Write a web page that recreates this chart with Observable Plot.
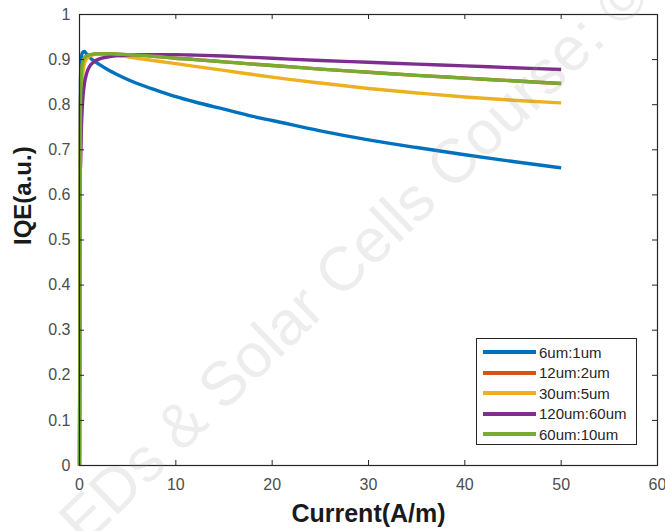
<!DOCTYPE html>
<html>
<head>
<meta charset="utf-8">
<script src="https://cdn.jsdelivr.net/npm/d3@7"></script>
<script src="https://cdn.jsdelivr.net/npm/@observablehq/plot@0.6"></script>
<style>
  body { margin: 0; background: #fff; }
  #chart { position: relative; width: 665px; height: 531px; }
  .legend {
    position: absolute; left: 476px; top: 338px; width: 161px; height: 107px;
    box-sizing: border-box; border: 1px solid #262626; background: #fff;
    font-family: "Liberation Sans", Arial, sans-serif; font-size: 15px; color: #262626;
    padding-top: 3px;
  }
  .legend .row { display: flex; align-items: center; height: 20.5px; }
  .legend .swatch { width: 53px; height: 4px; margin-left: 6px; margin-right: 3px; }
</style>
</head>
<body>
<div id="chart"></div>
<script>
// Injection current (A/m) at which the IQE was evaluated
const current = [0, 0.1, 0.2, 0.3, 0.5, 0.75, 1, 1.5, 2, 3, 4, 5, 6, 8, 10, 12, 15, 18, 20, 25, 30, 35, 40, 45, 50];

// IQE for each geometry (null = not evaluated)
const iqe6_1    = [0, 0.85, 0.905, 0.915, 0.918, 0.912, 0.906, 0.897, 0.890, 0.877, 0.866, 0.856, 0.847, 0.832, 0.818, 0.806, 0.790, 0.774, 0.765, 0.742, 0.722, 0.705, 0.689, 0.674, 0.660];
const iqe12_2   = [0, 0.80, 0.870, 0.890, 0.903, 0.908, 0.910, 0.912, 0.913, 0.913, 0.912, 0.911, 0.910, 0.907, 0.903, 0.900, 0.895, 0.890, 0.887, 0.879, 0.872, 0.865, 0.859, 0.853, 0.847];
const iqe30_5   = [0, 0.70, 0.820, 0.860, 0.890, 0.902, 0.907, 0.911, 0.912, 0.911, 0.909, 0.906, 0.903, 0.897, 0.891, 0.885, 0.876, 0.867, 0.861, 0.848, 0.836, 0.826, 0.817, 0.810, 0.804];
const iqe120_60 = [null, 0.66, 0.750, 0.800, 0.845, 0.870, 0.883, 0.895, 0.901, 0.906, 0.909, 0.910, 0.911, 0.911, 0.911, 0.910, 0.908, 0.905, 0.903, 0.898, 0.894, 0.890, 0.886, 0.882, 0.878];
const iqe60_10  = [0, 0.80, 0.870, 0.890, 0.903, 0.908, 0.910, 0.912, 0.913, 0.913, 0.912, 0.911, 0.910, 0.907, 0.903, 0.900, 0.895, 0.890, 0.887, 0.879, 0.872, 0.865, 0.859, 0.853, 0.847];

const seriesNames = ["6um:1um", "12um:2um", "30um:5um", "120um:60um", "60um:10um"];
const seriesValues = [iqe6_1, iqe12_2, iqe30_5, iqe120_60, iqe60_10];
const seriesColors = ["#0072BD", "#D95319", "#EDB120", "#7E2F8E", "#77AC30"];

const xTicks = [0, 10, 20, 30, 40, 50, 60];
const yTicks = [0, 0.1, 0.2, 0.3, 0.4, 0.5, 0.6, 0.7, 0.8, 0.9, 1];

const xLabel = "Current(A/m)";
const yLabel = "IQE(a.u.)";
const watermark = "LEDs & Solar Cells Course: ©";

// long-format rows, one per (series, current) sample
const rows = seriesNames.flatMap((name, s) =>
  current.map((x, i) => ({ name, x, y: seriesValues[s][i] }))
);

const W = 665, H = 531;
const mL = 79, mR = 8, mT = 14, mB = 66;
const frameW = W - mL - mR, frameH = H - mT - mB;
const tickLen = 5;
const axisInk = "#262626";

const chart = Plot.plot({
  width: W,
  height: H,
  marginLeft: mL, marginRight: mR, marginTop: mT, marginBottom: mB,
  style: { fontFamily: "'Liberation Sans', Arial, sans-serif", fontSize: "16px", background: "#fff" },
  x: { domain: [0, 60] },
  y: { domain: [0, 1] },
  color: { domain: seriesNames, range: seriesColors },
  marks: [
    Plot.line(rows, {
      x: "x", y: "y", z: "name", stroke: "name", curve: "monotone-x",
      strokeWidth: 3.4, strokeLinejoin: "round", strokeLinecap: "butt"
    }),
    Plot.frame({ stroke: axisInk, strokeWidth: 1.2 }),
    // inward ticks on all four sides of the box
    Plot.tickX(xTicks, { x: d => d, insetTop: frameH - tickLen, stroke: axisInk }),
    Plot.tickX(xTicks, { x: d => d, insetBottom: frameH - tickLen, stroke: axisInk }),
    Plot.tickY(yTicks, { y: d => d, insetRight: frameW - tickLen, stroke: axisInk }),
    Plot.tickY(yTicks, { y: d => d, insetLeft: frameW - tickLen, stroke: axisInk }),
    Plot.axisX({ ticks: xTicks, tickSize: 0, tickPadding: 13, label: null, color: "#4d4d4d", tickFormat: "~g" }),
    Plot.axisY({ ticks: yTicks, tickSize: 0, tickPadding: 9, label: null, color: "#4d4d4d", tickFormat: "~g" }),
    Plot.text([xLabel], {
      text: d => d, frameAnchor: "bottom", dy: 56,
      fontSize: 25, fontWeight: "bold", fill: "#1a1a1a"
    }),
    Plot.text([yLabel], {
      text: d => d, frameAnchor: "left", dx: -56, dy: 5, rotate: -90,
      fontSize: 24, fontWeight: "bold", fill: "#1a1a1a"
    }),
    // faint diagonal course watermark across the plot
    Plot.text([watermark], {
      text: d => d, frameAnchor: "middle", dx: -26, dy: 30, rotate: -44,
      fontSize: 62, fontFamily: "'Liberation Sans', Arial, sans-serif",
      fill: "#9a9a9a", fillOpacity: 0.18
    })
  ]
});

const host = document.getElementById("chart");
host.appendChild(chart);

// legend box in the lower right of the axes
const legend = document.createElement("div");
legend.className = "legend";
seriesNames.forEach((name, i) => {
  const row = document.createElement("div");
  row.className = "row";
  const sw = document.createElement("span");
  sw.className = "swatch";
  sw.style.background = seriesColors[i];
  const label = document.createElement("span");
  label.textContent = name;
  row.appendChild(sw);
  row.appendChild(label);
  legend.appendChild(row);
});
host.appendChild(legend);
</script>
</body>
</html>
